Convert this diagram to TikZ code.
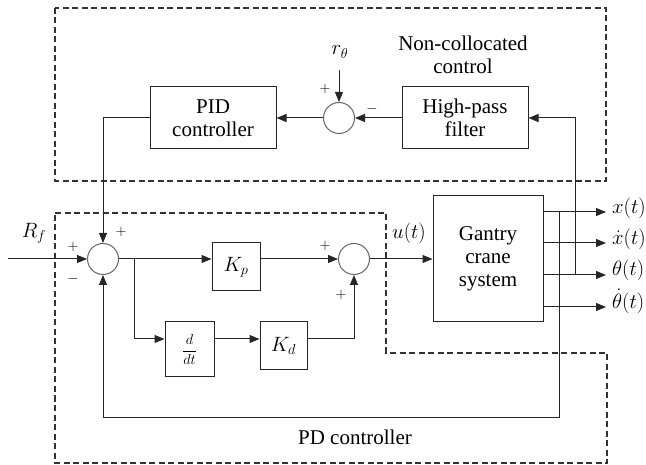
\documentclass[tikz,border=0pt]{standalone}
\usepackage{fontspec}
\newfontfamily\tms{Liberation Serif}
\setmainfont{Liberation Serif}
\usetikzlibrary{arrows.meta,calc}
\tikzset{
  blk/.style={draw=black!85, line width=1pt, fill=white, align=center, inner sep=0pt, font=\tms\fontsize{21}{23}\selectfont},
  sumc/.style={draw=black!60, line width=1pt, circle, minimum size=31pt, inner sep=0pt},
  con/.style={draw=black!85, line width=1pt},
  arr/.style={con, -{Triangle[length=10pt,width=8pt]}},
  dbox/.style={draw=black!80, line width=1.1pt, dash pattern=on 6pt off 3.5pt},
  lbl/.style={font=\tms\fontsize{21}{23}\selectfont, inner sep=0pt, align=center},
  olbl/.style={font=\tms\fontsize{20}{21}\selectfont, inner sep=0pt, anchor=west},
  sgn/.style={font=\tms\fontsize{15}{16}\selectfont, inner sep=0pt}
}
\begin{document}
\begin{tikzpicture}[x=1pt,y=-1pt]
\useasboundingbox (0,0) rectangle (646,465);
% dashed groups
\draw[dbox] (55,8) rectangle (606,181);
\draw[dbox] (55,213) -- (386,213) -- (386,353) -- (607,353) -- (607,463) -- (55,463) -- cycle;
% top loop
\node[blk, minimum width=126pt, minimum height=62pt] (pid) at (213,118) {PID\\controller};
\node[sumc] (ts) at (339,118) {};
\node[blk, minimum width=126pt, minimum height=62pt] (hpf) at (465,118) {High-pass\\filter};
\node[lbl] (ncl) at (463,55) {Non-collocated\\control};
\node[lbl] (rth) at (340,52) {$r_\theta$};
\coordinate (rtop) at (339,70);
\node[sgn] (tsp) at (325,89) {$+$};
\node[sgn] (tsm) at (372,109) {$-$};
% PD part
\node[sumc] (s1) at (103,259) {};
\node[blk, minimum width=48pt, minimum height=48pt] (kp) at (236,267) {$K_p$};
\node[blk, minimum width=49pt, minimum height=55pt] (dd) at (189.5,349.5) {\fontsize{14}{15}\selectfont$\displaystyle\frac{d}{dt}$};
\node[blk, minimum width=47pt, minimum height=48pt] (kd) at (283.5,346) {$K_d$};
\node[sumc] (s2) at (354,259) {};
\node[blk, minimum width=110pt, minimum height=126pt] (g) at (488,259) {Gantry\\crane\\system};
\node[lbl] (rf) at (34,233) {$R_f$};
\node[lbl] (ut) at (409,233) {$u(t)$};
\node[lbl] (pdl) at (355,437) {PD controller};
\node[sgn] (s1p1) at (73,247) {$+$};
\node[sgn] (s1m) at (73,279) {$-$};
\node[sgn] (s1p2) at (121,232) {$+$};
\node[sgn] (s2p1) at (325,246) {$+$};
\node[sgn] (s2p2) at (341,295) {$+$};
% coordinates
\coordinate (rin) at (8,259);
\coordinate (br) at (134,259);
\coordinate (dline) at (134,339);
\coordinate (o1) at (606,212);
\coordinate (o2) at (606,243);
\coordinate (o3) at (606,275);
\coordinate (o4) at (606,307);
\coordinate (j1) at (559,212);
\coordinate (fb) at (559,417);
\coordinate (j3) at (575,275);
% output labels
\node[olbl] (lx) at (612,208) {$x(t)$};
\node[olbl] (lxd) at (612,239) {$\smash{\dot{x}}(t)$};
\node[olbl] (lth) at (612,270) {$\theta(t)$};
\node[olbl] (lthd) at (612,303) {$\smash{\dot{\theta}}(t)$};
% connectors top
\draw[arr] (rtop) -- (ts.north);
\draw[arr] (hpf.west) -- (ts.east);
\draw[arr] (ts.west) -- (pid.east);
\draw[arr] (pid.west) -| (s1.north);
% connectors PD
\draw[arr] (rin) -- (s1.west);
\draw[arr] (s1.east) -- (s1 -| kp.west);
\draw[arr] (s1 -| kp.east) -- (s2.west);
\draw[arr] (br) -- (dline) -- (dline -| dd.west);
\draw[arr] (dline -| dd.east) -- (dline -| kd.west);
\draw[arr] (dline -| kd.east) -| (s2.south);
\draw[arr] (s2.east) -- (s2 -| g.west);
% outputs
\draw[arr] (g.east |- o1) -- (o1);
\draw[arr] (g.east |- o2) -- (o2);
\draw[arr] (g.east |- o3) -- (o3);
\draw[arr] (g.east |- o4) -- (o4);
% feedbacks
\draw[arr] (j1) -- (fb) -| (s1.south);
\draw[arr] (j3) |- (hpf.east);
\end{tikzpicture}
\end{document}
